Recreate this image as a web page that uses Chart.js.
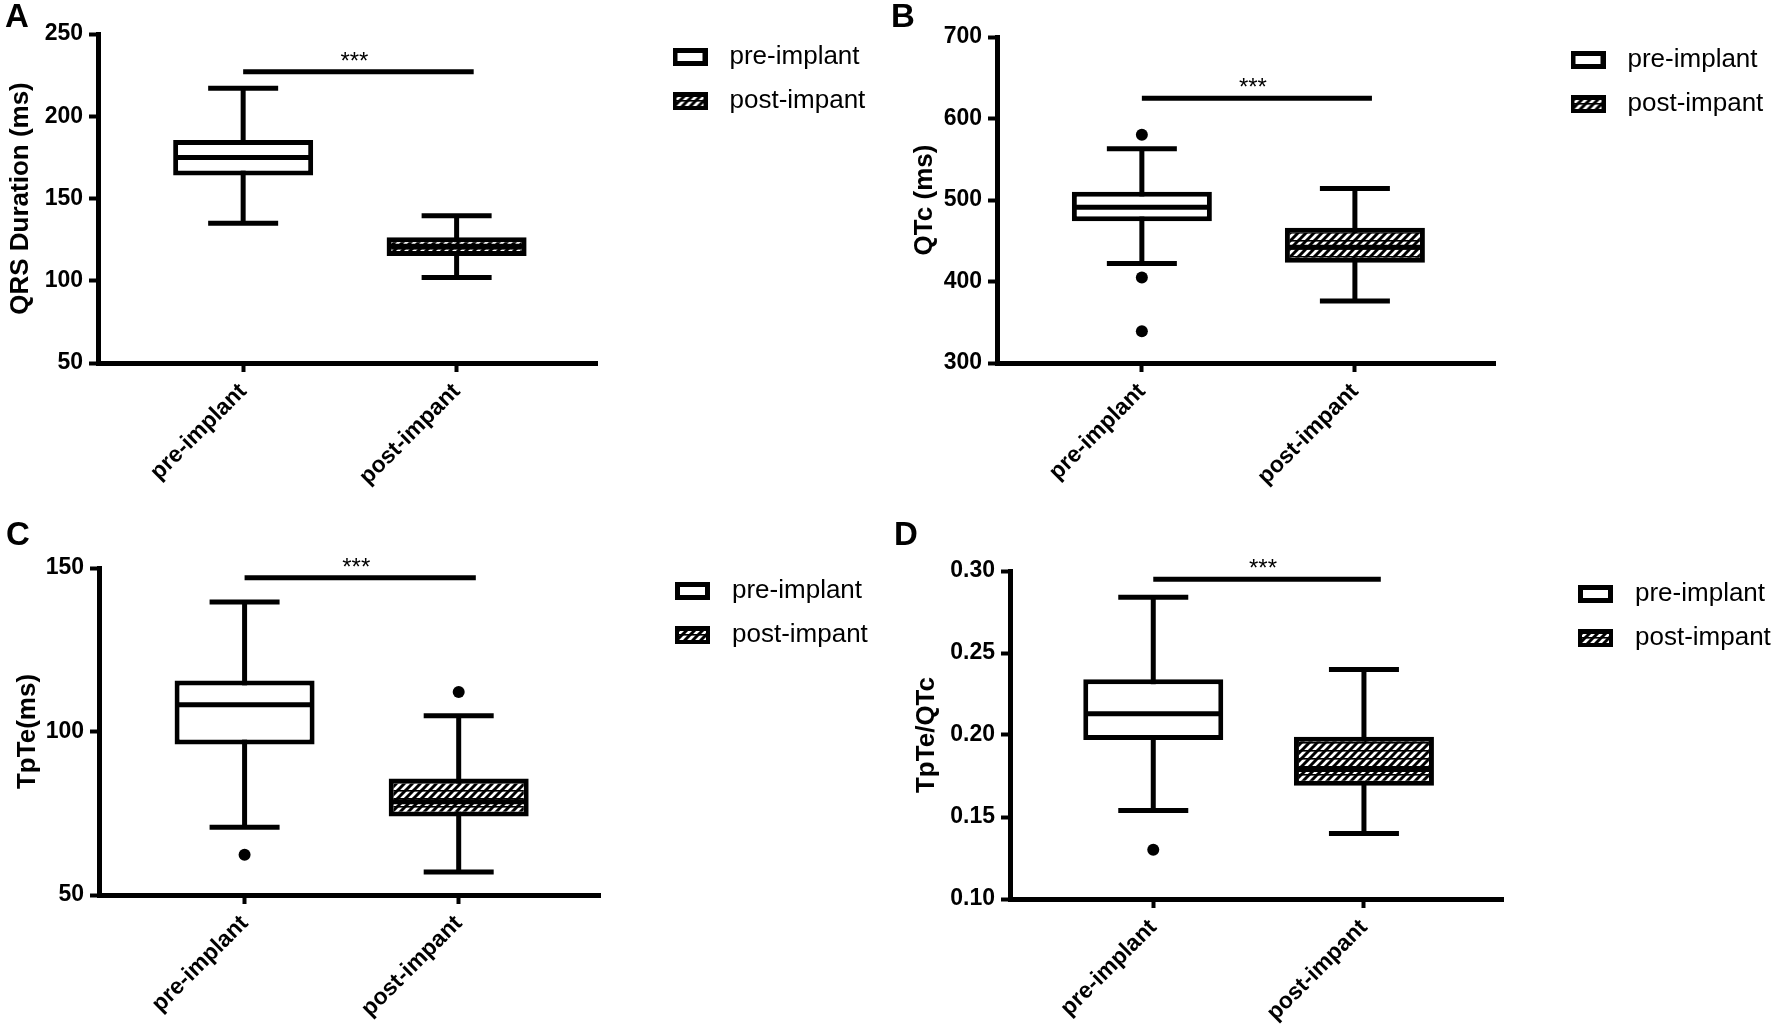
<!DOCTYPE html>
<html>
<head>
<meta charset="utf-8">
<title>QRS, QTc, TpTe and TpTe/QTc before and after implant</title>
<script src="https://cdn.jsdelivr.net/npm/chart.js@4.4.1/dist/chart.umd.min.js"></script>
<style>
  html, body { margin: 0; padding: 0; background: #fff; }
  body { width: 1772px; height: 1036px; position: relative; overflow: hidden; }
  .panel { position: absolute; }
</style>
</head>
<body>
<div class="panel" style="left:5px;top:0;width:872px;height:493px"><canvas id="chartA"></canvas></div>
<div class="panel" style="left:891px;top:0;width:881px;height:493px"><canvas id="chartB"></canvas></div>
<div class="panel" style="left:6px;top:518px;width:874px;height:507px"><canvas id="chartC"></canvas></div>
<div class="panel" style="left:894px;top:518px;width:879px;height:511px"><canvas id="chartD"></canvas></div>

<script>
/*---=== DATA ===---*/
const groups = ["pre-implant", "post-impant"];
const groupX = [1, 2];
const sigSpan = [1, 2.08];
const sigText = "***";

// A - QRS duration (ms)
const qrsLow = [135, 102];
const qrsQ1 = [164, 115];
const qrsMedian = [175, 121];
const qrsQ3 = [185.5, 126.5];
const qrsHigh = [217, 139.5];
const qrsOutliers = [[], []];
const qrsSig = 227;
const qrsTicks = [50, 100, 150, 200, 250];
const qrsTickLabels = ["50", "100", "150", "200", "250"];

// B - QTc (ms)
const qtcLow = [422, 376];
const qtcQ1 = [474, 423];
const qtcMedian = [491, 442];
const qtcQ3 = [510, 466];
const qtcHigh = [563, 514];
const qtcOutliers = [[580, 405, 339], []];
const qtcSig = 625;
const qtcTicks = [300, 400, 500, 600, 700];
const qtcTickLabels = ["300", "400", "500", "600", "700"];

// C - TpTe (ms)
const tpteLow = [70.7, 57];
const tpteQ1 = [96, 74];
const tpteMedian = [108.2, 78.5];
const tpteQ3 = [115.6, 85.6];
const tpteHigh = [139.6, 104.8];
const tpteOutliers = [[62.3], [112.1]];
const tpteSig = 147;
const tpteTicks = [50, 100, 150];
const tpteTickLabels = ["50", "100", "150"];

// D - TpTe/QTc
const ratioLow = [0.154, 0.140];
const ratioQ1 = [0.197, 0.169];
const ratioMedian = [0.213, 0.179];
const ratioQ3 = [0.234, 0.199];
const ratioHigh = [0.284, 0.240];
const ratioOutliers = [[0.130], []];
const ratioSig = 0.295;
const ratioTicks = [0.10, 0.15, 0.20, 0.25, 0.30];
const ratioTickLabels = ["0.10", "0.15", "0.20", "0.25", "0.30"];

/*---=== STYLING ===---*/
const FONT = '"Liberation Sans", Arial, sans-serif';
Chart.defaults.font.family = FONT;
Chart.defaults.color = "#000";

// 8x8 tile for the hatched post-implant fill
function makeHatchTile() {
    const c = document.createElement("canvas");
    c.width = 8; c.height = 8;
    const g = c.getContext("2d");
    g.fillStyle = "#fff";
    g.fillRect(0, 0, 8, 8);
    g.strokeStyle = "#000";
    g.lineWidth = 3;
    g.beginPath();
    g.moveTo(-4, 4); g.lineTo(4, -4);
    g.moveTo(0, 8); g.lineTo(8, 0);
    g.moveTo(4, 12); g.lineTo(12, 4);
    g.stroke();
    g.fillStyle = "#000";
    g.fillRect(0, 0, 8, 1.6);
    return c;
}
const hatchTile = makeHatchTile();
const hatch = document.createElement("canvas").getContext("2d").createPattern(hatchTile, "repeat");

// legend markers: thick black frame, white or hatched inside
function makeIcon(hatched) {
    const c = document.createElement("canvas");
    c.width = 35; c.height = 18;
    const g = c.getContext("2d");
    g.fillStyle = "#000";
    g.fillRect(0, 0, 35, 18);
    if (hatched) {
        g.fillStyle = g.createPattern(hatchTile, "repeat");
        g.fillRect(4, 5, 27, 9);
    } else {
        g.fillStyle = "#fff";
        g.fillRect(5, 5, 25, 8);
    }
    return c;
}
const legendIcons = [makeIcon(false), makeIcon(true)];

// moves the legend block sideways / up without touching the plot area,
// and widens its clip box so the wider point-style markers fit
const legendNudge = {
    id: "legendNudge",
    afterLayout(chart, args, opts) {
        const lg = chart.legend;
        if (!lg) return;
        lg.left += opts.dx; lg.right += opts.dx + opts.extra;
        lg.top += opts.dy; lg.bottom += opts.dy;
    }
};

// the "***" above the significance bar
const sigStars = {
    id: "sigStars",
    afterDatasetsDraw(chart, args, opts) {
        const {ctx, scales: {x, y}} = chart;
        const px = x.getPixelForValue((sigSpan[0] + sigSpan[1]) / 2) - 4;
        const py = y.getPixelForValue(opts.level);
        ctx.save();
        ctx.font = "24px " + FONT;
        ctx.fillStyle = "#000";
        ctx.textAlign = "center";
        ctx.textBaseline = "alphabetic";
        ctx.fillText(sigText, px, py - 3);
        ctx.restore();
    }
};

const panels = [
    { canvas: "chartA", letter: "A", yTitle: "QRS Duration (ms)", low: qrsLow, q1: qrsQ1, med: qrsMedian, q3: qrsQ3, high: qrsHigh,
      outliers: qrsOutliers, sig: qrsSig, ticks: qrsTicks, tickLabels: qrsTickLabels,
      axisWidth: 93, titlePad: 0, letterGap: 0, padRight: 82 },
    { canvas: "chartB", letter: "B", yTitle: "QTc (ms)", low: qtcLow, q1: qtcQ1, med: qtcMedian, q3: qtcQ3, high: qtcHigh,
      outliers: qtcOutliers, sig: qtcSig, ticks: qtcTicks, tickLabels: qtcTickLabels,
      axisWidth: 106, titlePad: 18, letterGap: 3, padRight: 75 },
    { canvas: "chartC", letter: "C", yTitle: "TpTe(ms)", low: tpteLow, q1: tpteQ1, med: tpteMedian, q3: tpteQ3, high: tpteHigh,
      outliers: tpteOutliers, sig: tpteSig, ticks: tpteTicks, tickLabels: tpteTickLabels,
      axisWidth: 93, titlePad: 6, letterGap: 16, padRight: 82 },
    { canvas: "chartD", letter: "D", yTitle: "TpTe/QTc", low: ratioLow, q1: ratioQ1, med: ratioMedian, q3: ratioQ3, high: ratioHigh,
      outliers: ratioOutliers, sig: ratioSig, ticks: ratioTicks, tickLabels: ratioTickLabels,
      axisWidth: 116, titlePad: 17, letterGap: 19, padRight: 67 }
];

function makeChart(p) {
    const ctx = document.getElementById(p.canvas).getContext("2d");
    const lastTick = p.ticks.length - 1;

    const caps = [];
    const outs = [];
    groupX.forEach((x, i) => {
        caps.push({x: x, y: p.high[i]}, {x: x, y: p.low[i]});
        p.outliers[i].forEach(v => outs.push({x: x, y: v}));
    });

    const axisGrid = {offset: false, drawOnChartArea: false, drawTicks: true, tickLength: 9, tickWidth: 4, tickColor: "#000"};
    const axisBorder = {display: true, color: "#000", width: 5};

    return new Chart(ctx, {
        type: "bar",
        data: {
            datasets: [
                {   // whisker stems
                    label: "whiskers",
                    data: groupX.map((x, i) => ({x: x, y: [p.low[i], p.high[i]]})),
                    backgroundColor: "#000",
                    borderWidth: 0,
                    grouped: false,
                    barPercentage: 1,
                    maxBarThickness: 5,
                    order: 4
                },
                {   // interquartile boxes
                    label: "box",
                    data: groupX.map((x, i) => ({x: x, y: [p.q1[i], p.q3[i]]})),
                    backgroundColor: ["#fff", hatch],
                    borderColor: "#000",
                    borderWidth: 5,
                    borderSkipped: false,
                    grouped: false,
                    barPercentage: 1,
                    maxBarThickness: 140,
                    order: 3
                },
                {
                    type: "line",
                    label: "caps",
                    data: caps,
                    showLine: false,
                    pointStyle: "line",
                    pointRadius: 35,
                    pointBorderWidth: 5,
                    pointBorderColor: "#000",
                    order: 2
                },
                {
                    type: "line",
                    label: "median",
                    data: groupX.map((x, i) => ({x: x, y: p.med[i]})),
                    showLine: false,
                    pointStyle: "line",
                    pointRadius: 68,
                    pointBorderWidth: 5,
                    pointBorderColor: "#000",
                    order: 1
                },
                {
                    type: "line",
                    label: "outliers",
                    data: outs,
                    showLine: false,
                    pointStyle: "circle",
                    pointRadius: 6,
                    pointBackgroundColor: "#000",
                    pointBorderWidth: 0,
                    order: 1
                },
                {
                    type: "line",
                    label: "significance",
                    data: sigSpan.map(x => ({x: x, y: p.sig})),
                    borderColor: "#000",
                    borderWidth: 5,
                    pointRadius: 0,
                    order: 1
                }
            ]
        },
        options: {
            responsive: true,
            maintainAspectRatio: false,
            animation: false,
            events: [],
            layout: {autoPadding: false, padding: {left: 0, right: p.padRight, top: 0, bottom: 0}},
            plugins: {
                title: {
                    display: true,
                    text: p.letter,
                    align: "start",
                    color: "#000",
                    font: {size: 33, weight: "bold", lineHeight: 1},
                    padding: {top: 1, bottom: p.letterGap}
                },
                legend: {
                    position: "right",
                    align: "start",
                    fullSize: false,
                    labels: {
                        usePointStyle: true,
                        pointStyleWidth: 53,
                        boxHeight: 18,
                        padding: 18,
                        color: "#000",
                        font: {size: 26},
                        generateLabels: () => groups.map((g, i) => ({
                            text: g,
                            pointStyle: legendIcons[i],
                            fillStyle: "#fff",
                            strokeStyle: "#000",
                            lineWidth: 0,
                            hidden: false,
                            datasetIndex: 1
                        }))
                    }
                },
                tooltip: {enabled: false},
                legendNudge: {dx: 48, dy: -8, extra: 40},
                sigStars: {level: p.sig}
            },
            scales: {
                x: {
                    type: "linear",
                    min: 0.32,
                    max: 2.66,
                    offset: false,
                    afterFit: s => { s.height = 130; },
                    afterBuildTicks: s => { s.ticks = groupX.map(v => ({value: v})); },
                    ticks: {
                        autoSkip: false,
                        minRotation: 45,
                        maxRotation: 45,
                        padding: 6,
                        color: "#000",
                        font: {size: 23, weight: "bold"},
                        callback: v => groups[groupX.indexOf(v)]
                    },
                    grid: axisGrid,
                    border: axisBorder
                },
                y: {
                    min: p.ticks[0],
                    max: p.ticks[lastTick],
                    afterFit: s => { s.width = p.axisWidth; },
                    afterBuildTicks: s => { s.ticks = p.ticks.map(v => ({value: v})); },
                    ticks: {
                        padding: 6,
                        color: "#000",
                        font: {size: 23, weight: "bold"},
                        callback: v => p.tickLabels[p.ticks.indexOf(v)]
                    },
                    grid: axisGrid,
                    border: axisBorder,
                    title: {
                        display: true,
                        text: p.yTitle,
                        color: "#000",
                        font: {size: 26, weight: "bold"},
                        padding: {top: p.titlePad, bottom: 0}
                    }
                }
            }
        },
        plugins: [legendNudge, sigStars]
    });
}

panels.forEach(makeChart);
</script>
</body>
</html>
